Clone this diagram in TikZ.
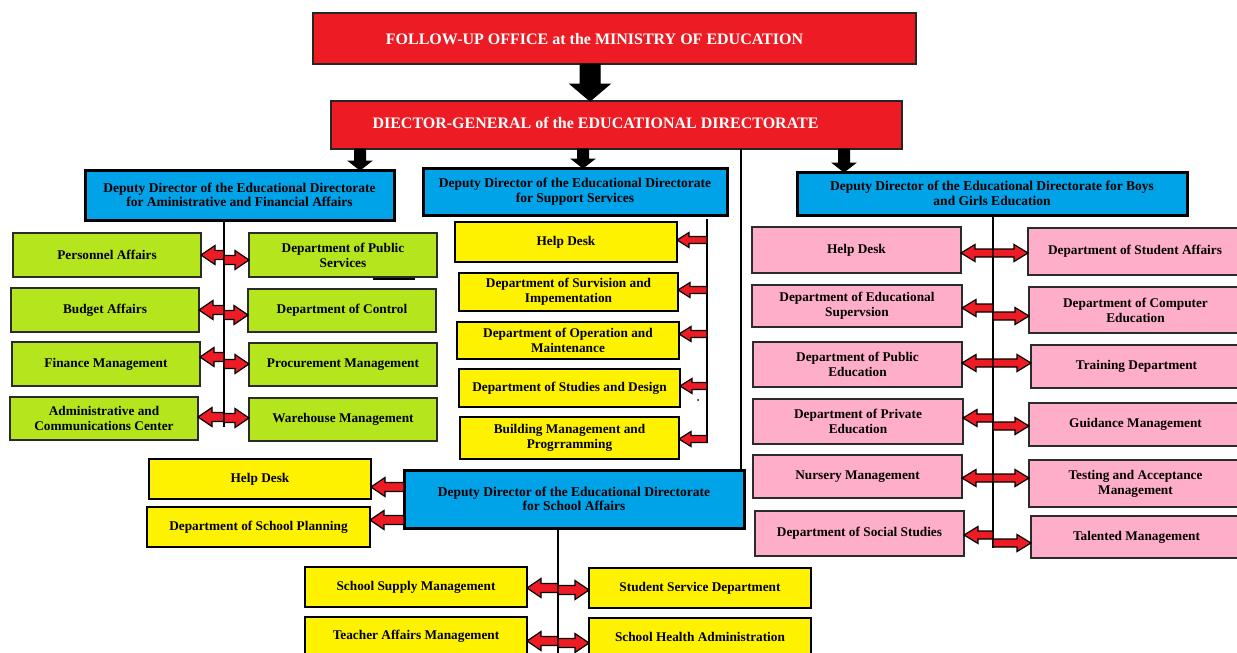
\documentclass[tikz,border=0pt]{standalone}
\usepackage{fontspec}
\setmainfont{Liberation Serif}
\usetikzlibrary{calc}
\definecolor{boxred}{HTML}{ED1C24}
\definecolor{boxblue}{HTML}{00A2E8}
\definecolor{boxgreen}{HTML}{B5E61D}
\definecolor{boxyellow}{HTML}{FFF200}
\definecolor{boxpink}{HTML}{FFAEC9}
\definecolor{arrowred}{HTML}{ED1C24}
\definecolor{edge}{HTML}{2B2B2B}
% block-arrow dimensions: half shaft, half head, head length
\newcommand\blkS{4.5pt}
\newcommand\blkH{9.5pt}
\newcommand\blkL{14pt}
% \bx{name}{x1}{y1}{x2}{y2}{style}{text}
\newcommand\bx[7]{\node[#6, minimum width={#4-#2}, minimum height={#5-#3}] (#1) at ({(#2+#4)/2},{(#3+#5)/2}) {#7};}
\tikzset{
  box/.style={draw, rectangle, inner sep=0pt, outer sep=0pt, align=center,
    font=\fontsize{13.3}{15}\selectfont\bfseries},
  redbox/.style={box, fill=boxred, draw=black!85, line width=1.8pt},
  bluebox/.style={box, fill=boxblue, draw=black, line width=3pt,
    font=\fontsize{13.5}{14.5}\selectfont\bfseries},
  greenbox/.style={box, fill=boxgreen, draw=edge, line width=1.8pt},
  yellowbox/.style={box, fill=boxyellow, draw=black, line width=1.5pt},
  pinkbox/.style={box, fill=boxpink, draw=edge, line width=1.8pt},
  redtext/.style={text=white, font=\fontsize{16}{18}\selectfont\bfseries, inner sep=0pt},
  spine/.style={draw=black, line width=2pt},
  blk size/.code args={#1/#2/#3}{\def\blkS{#1}\def\blkH{#2}\def\blkL{#3}},
  hblock/.style={draw=black, fill=arrowred, line width=1.2pt, line join=miter,
    to path={let \p1=(\tikztostart), \p2=(\tikztotarget), \n1={sign(\x2-\x1)} in
      (\x1,{\y1+\blkS}) -- ({\x2-(\n1)*\blkL},{\y1+\blkS}) -- ({\x2-(\n1)*\blkL},{\y1+\blkH})
      -- (\x2,\y1) -- ({\x2-(\n1)*\blkL},{\y1-\blkH}) -- ({\x2-(\n1)*\blkL},{\y1-\blkS})
      -- (\x1,{\y1-\blkS}) -- cycle}},
  vblock/.style={draw=black, fill=black, line width=1pt, line join=miter,
    to path={let \p1=(\tikztostart), \p2=(\tikztotarget), \n1={sign(\y1-\y2)} in
      ({\x1-\blkS},\y1) -- ({\x1-\blkS},{\y2+(\n1)*\blkL}) -- ({\x1-\blkH},{\y2+(\n1)*\blkL})
      -- (\x1,\y2) -- ({\x1+\blkH},{\y2+(\n1)*\blkL}) -- ({\x1+\blkS},{\y2+(\n1)*\blkL})
      -- ({\x1+\blkS},\y1) -- cycle}},
}
\begin{document}
\begin{tikzpicture}[x=1pt,y=-1pt]
\useasboundingbox (0,0) rectangle (1237,653);
\clip (0,0) rectangle (1237,653);
\fill[white] (0,0) rectangle (1237,653);

% ---- top of the hierarchy ----
\bx{follow}{313}{13}{916}{64}{redbox}{}
\node[redtext] (followtext) at (594.5,39) {FOLLOW-UP OFFICE at the MINISTRY OF EDUCATION};
\bx{dg}{331}{101}{902}{149}{redbox}{}
\node[redtext] (dgtext) at (595.5,123) {DIECTOR-GENERAL of the EDUCATIONAL DIRECTORATE};

% ---- deputy directors ----
\bx{dAdmin}{85}{170}{394}{220}{bluebox}{Deputy Director of the Educational Directorate\\for Aministrative and Financial Affairs}
\bx{dSupport}{423}{168}{727}{215}{bluebox}{Deputy Director of the Educational Directorate\\for Support Services}
\bx{dBoys}{797}{172}{1187}{215}{bluebox}{Deputy Director of the Educational Directorate for Boys\\and Girls Education}
\bx{dSchool}{404}{470}{744}{528}{bluebox}{Deputy Director of the Educational Directorate\\for School Affairs}

\draw[vblock, blk size=10pt/20pt/17pt] (follow.south -| 590,0) to (dg.north -| 590,0);
\draw[vblock, blk size=5.5pt/11.5pt/9pt] (dg.south -| 360,0) to (dAdmin.north -| 360,0);
\draw[vblock, blk size=5.5pt/11.5pt/9pt] (dg.south -| 583,0) to (dSupport.north -| 583,0);
\draw[vblock, blk size=5.5pt/11.5pt/9pt] (dg.south -| 844,0) to (dBoys.north -| 844,0);
\draw[spine] (dg.south -| 741,0) -- (dSchool.north -| 741,0);

% ---- administrative and financial affairs ----
\coordinate (spAend) at (224,427);
\draw[spine] (dAdmin.south -| spAend) -- (spAend);
\bx{gPers}{13}{233}{201}{277}{greenbox}{Personnel Affairs}
\bx{gBudget}{11}{288}{199}{332}{greenbox}{Budget Affairs}
\bx{gFin}{12}{342}{200}{386}{greenbox}{Finance Management}
\bx{gAdmin}{10}{397}{198}{440}{greenbox}{Administrative and\\Communications Center}
\bx{gPub}{249}{233}{437}{277}{greenbox}{Department of Public\\Services}
\bx{gCtrl}{248}{289}{436}{332}{greenbox}{Department of Control}
\bx{gProc}{249}{343}{437}{386}{greenbox}{Procurement Management}
\bx{gWare}{249}{398}{437}{441}{greenbox}{Warehouse Management}
\draw[line width=1.2pt] (373,279) -- (415,279);
\draw[hblock] (spAend |- 0,255) to (gPers.east |- 0,255);
\draw[hblock] (spAend |- 0,310) to (gBudget.east |- 0,310);
\draw[hblock] (spAend |- 0,357) to (gFin.east |- 0,357);
\draw[hblock] (spAend |- 0,417) to (gAdmin.east |- 0,417);
\draw[hblock] (spAend |- 0,260) to (gPub.west |- 0,260);
\draw[hblock] (spAend |- 0,315) to (gCtrl.west |- 0,315);
\draw[hblock] (spAend |- 0,364) to (gProc.west |- 0,364);
\draw[hblock] (spAend |- 0,418) to (gWare.west |- 0,418);

% ---- support services ----
\coordinate (spBtop) at (707,219);
\coordinate (spBend) at (707,443);
\draw[spine] (spBtop) -- (spBend);
\bx{yHelp}{455}{222}{677}{262}{yellowbox}{Help Desk}
\bx{ySurv}{459}{273}{678}{311}{yellowbox}{Department of Survision and\\Impementation}
\bx{yOper}{457}{322}{679}{359}{yellowbox}{Department of Operation and\\Maintenance}
\bx{yStud}{459}{369}{680}{407}{yellowbox}{Department of Studies and Design}
\bx{yBuild}{460}{417}{679}{459}{yellowbox}{Building Management and\\Progrramming}
\fill (698,400) circle (1);
\draw[hblock, blk size=3.5pt/7.5pt/12pt] (spBend |- 0,240) to (yHelp.east |- 0,240);
\draw[hblock, blk size=3.5pt/7.5pt/12pt] (spBend |- 0,290) to (ySurv.east |- 0,290);
\draw[hblock, blk size=3.5pt/7.5pt/12pt] (spBend |- 0,334) to (yOper.east |- 0,334);
\draw[hblock, blk size=3.5pt/7.5pt/12pt] (spBend |- 0,386) to (yStud.east |- 0,386);
\draw[hblock, blk size=3.5pt/7.5pt/12pt] (spBend |- 0,439) to (yBuild.east |- 0,439);

% ---- boys and girls education ----
\coordinate (spCend) at (993,548);
\draw[spine] (dBoys.south -| spCend) -- (spCend);
\bx{pHelp}{752}{227}{961}{273}{pinkbox}{Help Desk}
\bx{pSup}{752}{285}{962}{327}{pinkbox}{Department of Educational\\Supervsion}
\bx{pPub}{753}{342}{962}{387}{pinkbox}{Department of Public\\Education}
\bx{pPriv}{753}{399}{963}{444}{pinkbox}{Department of Private\\Education}
\bx{pNurs}{753}{455}{962}{498}{pinkbox}{Nursery Management}
\bx{pSoc}{755}{511}{964}{556}{pinkbox}{Department of Social Studies}
\bx{pStud}{1028}{228}{1242}{275}{pinkbox}{Department of Student Affairs}
\bx{pComp}{1029}{287}{1242}{333}{pinkbox}{Department of Computer\\Education}
\bx{pTrain}{1031}{345}{1242}{388}{pinkbox}{Training Department}
\bx{pGuide}{1029}{403}{1242}{446}{pinkbox}{Guidance Management}
\bx{pTest}{1029}{460}{1242}{507}{pinkbox}{Testing and Acceptance\\Management}
\bx{pTal}{1031}{516}{1242}{558}{pinkbox}{Talented Management}
\draw[hblock, blk size=4pt/8.5pt/14pt] (spCend |- 0,253) to (pHelp.east |- 0,253);
\draw[hblock, blk size=4pt/8.5pt/14pt] (spCend |- 0,308) to (pSup.east |- 0,308);
\draw[hblock, blk size=4pt/8.5pt/14pt] (spCend |- 0,363) to (pPub.east |- 0,363);
\draw[hblock, blk size=4pt/8.5pt/14pt] (spCend |- 0,418) to (pPriv.east |- 0,418);
\draw[hblock, blk size=4pt/8.5pt/14pt] (spCend |- 0,478) to (pNurs.east |- 0,478);
\draw[hblock, blk size=4pt/8.5pt/14pt] (spCend |- 0,535) to (pSoc.east |- 0,535);
\draw[hblock, blk size=4pt/8.5pt/14pt] (spCend |- 0,253) to (pStud.west |- 0,253);
\draw[hblock, blk size=4pt/8.5pt/14pt] (spCend |- 0,316) to (pComp.west |- 0,316);
\draw[hblock, blk size=4pt/8.5pt/14pt] (spCend |- 0,363) to (pTrain.west |- 0,363);
\draw[hblock, blk size=4pt/8.5pt/14pt] (spCend |- 0,426) to (pGuide.west |- 0,426);
\draw[hblock, blk size=4pt/8.5pt/14pt] (spCend |- 0,478) to (pTest.west |- 0,478);
\draw[hblock, blk size=4pt/8.5pt/14pt] (spCend |- 0,543) to (pTal.west |- 0,543);

% ---- school affairs ----
\bx{sHelp}{149}{459}{371}{499}{yellowbox}{Help Desk}
\bx{sPlan}{147}{507}{370}{547}{yellowbox}{Department of School Planning}
\draw[hblock] (dSchool.west |- 0,487) to (sHelp.east |- 0,487);
\draw[hblock] (dSchool.west |- 0,520) to (sPlan.east |- 0,520);
\coordinate (spDend) at (558,660);
\draw[spine, line width=2.6pt] (dSchool.south -| spDend) -- (spDend);
\bx{sSupply}{305}{567}{527}{607}{yellowbox}{School Supply Management}
\bx{sServ}{589}{568}{811}{608}{yellowbox}{Student Service Department}
\bx{sTeach}{305}{617}{527}{655}{yellowbox}{Teacher Affairs Management}
\bx{sHealth}{589}{618}{811}{655}{yellowbox}{School Health Administration}
\draw[hblock] (spDend |- 0,588) to (sSupply.east |- 0,588);
\draw[hblock] (spDend |- 0,590) to (sServ.west |- 0,590);
\draw[hblock] (spDend |- 0,641) to (sTeach.east |- 0,641);
\draw[hblock] (spDend |- 0,643) to (sHealth.west |- 0,643);
\end{tikzpicture}
\end{document}
